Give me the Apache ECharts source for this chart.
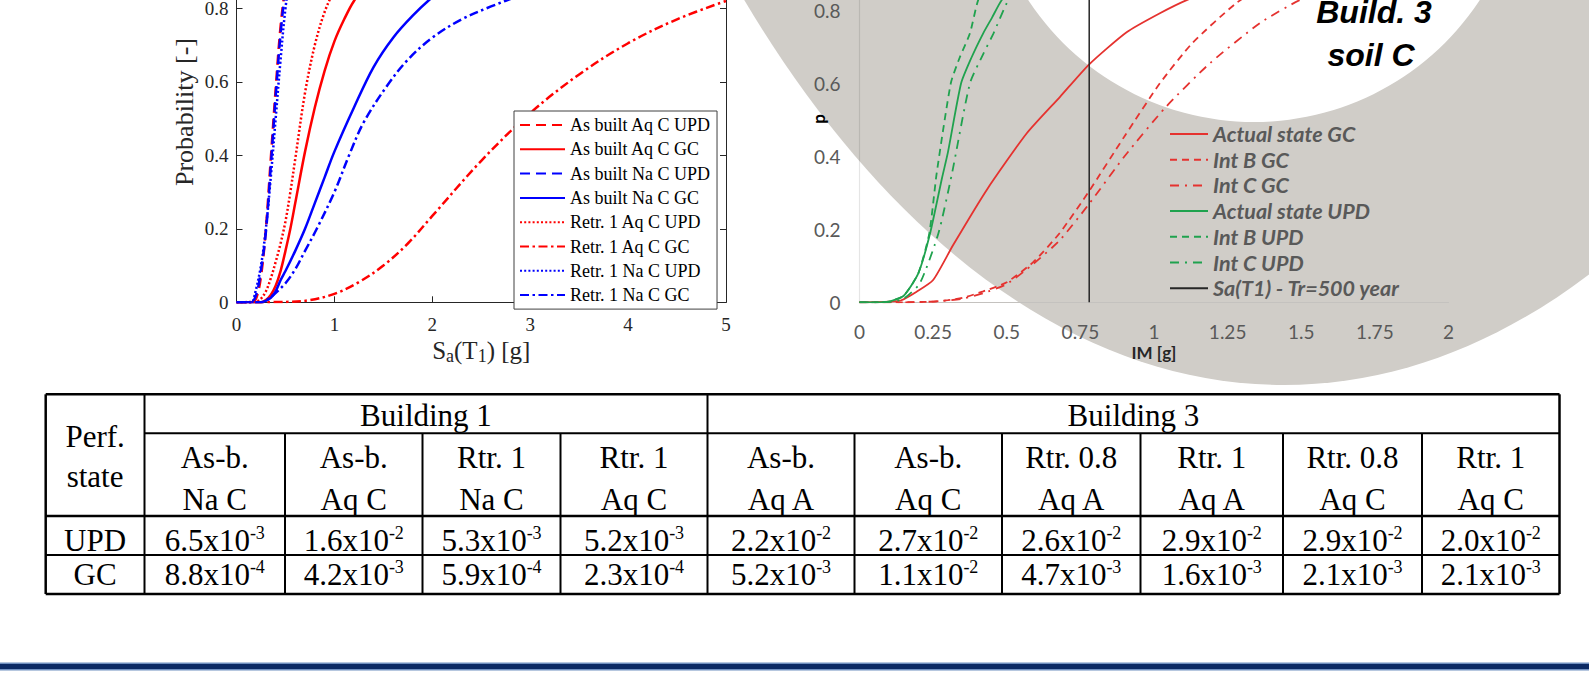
<!DOCTYPE html>
<html>
<head>
<meta charset="utf-8">
<script src="https://cdn.jsdelivr.net/npm/echarts@6/dist/echarts.min.js"></script>
<style>
  html, body { margin: 0; padding: 0; background: #ffffff; }
  #chart { width: 1589px; height: 681px; }
</style>
</head>
<body>
<div id="chart"></div>
<script>
// ---------- Building 1, soil C: fragility curves, Sa(T1) [g] vs probability ----------
const b1_names = [
  'As built Aq C UPD', 'As built Aq C GC', 'As built Na C UPD', 'As built Na C GC',
  'Retr. 1 Aq C UPD', 'Retr. 1 Aq C GC', 'Retr. 1 Na C UPD', 'Retr. 1 Na C GC'
];
const b1_asbuilt_aq_upd = [[0,0],[0.15,0],[0.2,0.01],[0.25,0.07],[0.3,0.2],[0.35,0.39],[0.4,0.58],[0.45,0.75],[0.5,0.86],[0.55,0.93],[0.6,0.97]];
const b1_asbuilt_aq_gc = [[0,0],[0.25,0],[0.3,0.006],[0.35,0.02],[0.4,0.045],[0.45,0.085],[0.5,0.14],[0.55,0.2],[0.6,0.27],[0.7,0.41],[0.8,0.53],[0.9,0.63],[1.0,0.71],[1.1,0.77],[1.2,0.82],[1.4,0.89],[1.6,0.93]];
const b1_asbuilt_na_upd = [[0,0],[0.15,0],[0.2,0.02],[0.24,0.07],[0.3,0.19],[0.35,0.37],[0.4,0.56],[0.45,0.73],[0.5,0.85],[0.55,0.92],[0.6,0.96]];
const b1_asbuilt_na_gc = [[0,0],[0.25,0],[0.3,0.004],[0.35,0.012],[0.4,0.03],[0.45,0.06],[0.5,0.085],[0.6,0.14],[0.7,0.2],[0.8,0.27],[0.9,0.34],[1.0,0.41],[1.2,0.53],[1.4,0.64],[1.6,0.72],[1.8,0.78],[2.0,0.83],[2.2,0.87]];
const b1_retr_aq_upd = [[0,0],[0.2,0.002],[0.25,0.01],[0.3,0.03],[0.35,0.065],[0.4,0.11],[0.45,0.16],[0.5,0.22],[0.55,0.3],[0.6,0.39],[0.7,0.57],[0.8,0.7],[0.9,0.79],[1.0,0.85],[1.1,0.9],[1.2,0.93]];
const b1_retr_aq_gc = [[0,0],[0.5,0.001],[0.75,0.006],[1.0,0.023],[1.25,0.055],[1.5,0.1],[1.75,0.16],[2.0,0.235],[2.5,0.385],[3.0,0.515],[3.5,0.62],[4.0,0.705],[4.5,0.77],[5.0,0.82]];
const b1_retr_na_upd = [[0,0],[0.15,0],[0.19,0.025],[0.25,0.1],[0.3,0.2],[0.35,0.34],[0.4,0.5],[0.45,0.66],[0.5,0.8],[0.55,0.89],[0.6,0.94]];
const b1_retr_na_gc = [[0,0],[0.25,0],[0.3,0.005],[0.376,0.02],[0.45,0.038],[0.51,0.055],[0.6,0.09],[0.7,0.14],[0.82,0.2],[1.0,0.3],[1.15,0.4],[1.3,0.49],[1.54,0.59],[1.75,0.66],[2.0,0.72],[2.3,0.77],[2.6,0.805],[2.9,0.835],[3.2,0.86]];

// ---------- Building 3, soil C: fragility curves, IM [g] vs p ----------
const b3_names = ['Actual state GC', 'Int B GC', 'Int C GC', 'Actual state UPD', 'Int B UPD', 'Int C UPD', 'Sa(T1) - Tr=500 year'];
const b3_actual_gc = [[0,0],[0.1,0.002],[0.14,0.005],[0.194,0.029],[0.25,0.061],[0.318,0.157],[0.432,0.308],[0.568,0.463],[0.681,0.563],[0.78,0.652],[0.907,0.74],[1.02,0.792],[1.111,0.828],[1.25,0.87],[1.5,0.92]];
const b3_intb_gc = [[0,0],[0.15,0],[0.25,0.002],[0.3,0.006],[0.35,0.012],[0.42,0.03],[0.5,0.055],[0.59,0.11],[0.68,0.19],[0.78,0.305],[0.9,0.455],[1.02,0.6],[1.13,0.71],[1.28,0.82],[1.4,0.88],[1.6,0.94]];
const b3_intc_gc = [[0,0],[0.15,0],[0.25,0.002],[0.3,0.005],[0.35,0.01],[0.42,0.025],[0.5,0.05],[0.59,0.105],[0.68,0.17],[0.78,0.27],[0.9,0.4],[1.04,0.535],[1.19,0.655],[1.36,0.765],[1.5,0.83],[1.7,0.89]];
const b3_actual_upd = [[0,0],[0.05,0],[0.1,0.002],[0.15,0.018],[0.2,0.08],[0.24,0.19],[0.28,0.34],[0.3,0.41],[0.345,0.6],[0.38,0.67],[0.42,0.737],[0.45,0.78],[0.483,0.828],[0.55,0.89],[0.65,0.95]];
const b3_intb_upd = [[0,0],[0.05,0],[0.1,0.002],[0.15,0.018],[0.2,0.08],[0.237,0.189],[0.262,0.353],[0.31,0.6],[0.34,0.67],[0.375,0.737],[0.403,0.828],[0.45,0.9],[0.55,0.96]];
const b3_intc_upd = [[0,0],[0.05,0],[0.1,0.001],[0.15,0.01],[0.205,0.052],[0.268,0.189],[0.314,0.353],[0.375,0.6],[0.42,0.68],[0.455,0.737],[0.505,0.828],[0.55,0.88],[0.65,0.94]];
const b3_sa_tr500 = 0.78;

// ---------- annual failure probabilities ----------
const table_groups = ['Building 1', 'Building 3'];
const table_group_span = [4, 6];
const table_head_top = ['As-b.', 'As-b.', 'Rtr. 1', 'Rtr. 1', 'As-b.', 'As-b.', 'Rtr. 0.8', 'Rtr. 1', 'Rtr. 0.8', 'Rtr. 1'];
const table_head_bottom = ['Na C', 'Aq C', 'Na C', 'Aq C', 'Aq A', 'Aq C', 'Aq A', 'Aq A', 'Aq C', 'Aq C'];
const table_states = ['UPD', 'GC'];
const upd_mantissa = ['6.5', '1.6', '5.3', '5.2', '2.2', '2.7', '2.6', '2.9', '2.9', '2.0'];
const upd_exponent = [-3, -2, -3, -3, -2, -2, -2, -2, -2, -2];
const gc_mantissa = ['8.8', '4.2', '5.9', '2.3', '5.2', '1.1', '4.7', '1.6', '2.1', '2.1'];
const gc_exponent = [-4, -3, -4, -4, -3, -2, -3, -3, -3, -3];

// ---------- styling ----------
const SERIF = '"Liberation Serif", "Times New Roman", serif';
const SANS = '"Liberation Sans", Arial, sans-serif';
const CAL = 'Lato, "Open Sans", sans-serif';
const RED = '#ff0000', BLUE = '#0000ff';
const XL_RED = '#e5322f', XL_GREEN = '#1fa24e';

function matlabLine(name, data, color, type) {
  return {
    name, type: 'line', xAxisIndex: 0, yAxisIndex: 0, data,
    symbol: 'none', smooth: 0.35,
    lineStyle: { color, width: 2.5, type, cap: 'butt' },
    itemStyle: { color }
  };
}
function excelLine(name, data, color, type) {
  return {
    name, type: 'line', xAxisIndex: 1, yAxisIndex: 2, data,
    symbol: 'none', smooth: 0.2,
    lineStyle: { color, width: 1.8, type },
    itemStyle: { color }
  };
}

const DASH = [10, 6], DOT = [2, 2.2], DASHDOT = [9, 3.5, 2.5, 3.5];
const XL_DASH = [7, 5], XL_DASHDOT = [9, 6, 2, 6];

// ---------- table drawing ----------
const colX = [45.7, 144.5, 285, 422.5, 560.5, 707.5, 854.5, 1002, 1140.5, 1283, 1422, 1559.5];
const rowY = [394.3, 433.3, 516, 555, 594];
const tableFont = 31;

function hLine(x1, x2, y, w) {
  return { type: 'line', z: 5, shape: { x1, y1: y, x2, y2: y }, style: { stroke: '#000', lineWidth: w } };
}
function vLine(x, y1, y2, w) {
  return { type: 'line', z: 5, shape: { x1: x, y1, x2: x, y2 }, style: { stroke: '#000', lineWidth: w } };
}
function cellText(text, x, y) {
  return {
    type: 'text', z: 6,
    style: {
      text, x, y, align: 'center', verticalAlign: 'middle',
      fontFamily: SERIF, fontSize: tableFont, fill: '#000'
    }
  };
}
function sciText(m, e, x, y) {
  return {
    type: 'text', z: 6,
    style: {
      text: '{m|' + m + 'x10}{e|' + e + '}', x, y, align: 'center', verticalAlign: 'middle',
      fill: '#000',
      rich: {
        m: { fontFamily: SERIF, fontSize: tableFont, lineHeight: 32, fill: '#000' },
        e: { fontFamily: SERIF, fontSize: 18, lineHeight: 20, verticalAlign: 'top', fill: '#000' }
      }
    }
  };
}

const ROW_UPD = 540, ROW_GC = 574;
const tableEls = [];
const left = colX[0], right = colX[colX.length - 1];
tableEls.push(hLine(left, right, rowY[0], 2.5));
tableEls.push(hLine(colX[1], right, rowY[1], 2));
tableEls.push(hLine(left, right, rowY[2], 2.5));
tableEls.push(hLine(left, right, rowY[3], 2));
tableEls.push(hLine(left, right, rowY[4], 2.5));
tableEls.push(vLine(left, rowY[0], rowY[4], 2.5));
tableEls.push(vLine(colX[1], rowY[0], rowY[4], 2));
tableEls.push(vLine(right, rowY[0], rowY[4], 2.5));
let gStart = 1;
table_groups.forEach((g, gi) => {
  const gEnd = gStart + table_group_span[gi];
  if (gi > 0) tableEls.push(vLine(colX[gStart], rowY[0], rowY[4], 2));
  tableEls.push(cellText(g, (colX[gStart] + colX[gEnd]) / 2, 415));
  gStart = gEnd;
});
for (let c = 0; c < table_head_top.length; c++) {
  const xl = colX[c + 1], xr = colX[c + 2];
  const xc = (xl + xr) / 2;
  if (c > 0 && c !== table_group_span[0]) tableEls.push(vLine(xl, rowY[1], rowY[4], 2));
  tableEls.push(cellText(table_head_top[c], xc, 457));
  tableEls.push(cellText(table_head_bottom[c], xc, 499.5));
  tableEls.push(sciText(upd_mantissa[c], upd_exponent[c], xc, ROW_UPD));
  tableEls.push(sciText(gc_mantissa[c], gc_exponent[c], xc, ROW_GC));
}
const c0 = (colX[0] + colX[1]) / 2;
tableEls.push(cellText('Perf.', c0, 436.5));
tableEls.push(cellText('state', c0, 476));
tableEls.push(cellText(table_states[0], c0, ROW_UPD));
tableEls.push(cellText(table_states[1], c0, ROW_GC));

// ---------- background band, axis titles, panel title, footer rule ----------
const decoEls = [
  { type: 'ellipse', z: -20, silent: true, shape: { cx: 1284, cy: -1085, rx: 800, ry: 1470 }, style: { fill: '#d0cdc8' } },
  { type: 'circle', z: -19, silent: true, shape: { cx: 1254, cy: -148, r: 270 }, style: { fill: '#ffffff' } },
  { type: 'text', z: 6, x: 184.5, y: 112, rotation: Math.PI / 2,
    style: { text: 'Probability [-]', x: 0, y: 0, align: 'center', verticalAlign: 'middle', fontFamily: SERIF, fontSize: 26, fill: '#262626' } },
  { type: 'text', z: 6, x: 818, y: 119, rotation: Math.PI / 2,
    style: { text: 'p', x: 0, y: 0, align: 'center', verticalAlign: 'middle', fontFamily: CAL, fontSize: 17, fontWeight: 'bold', fill: '#000' } },
  { type: 'text', z: 6, style: { text: 'Build. 3', x: 1374, y: 12, align: 'center', verticalAlign: 'middle', fontFamily: SANS, fontSize: 32, fontWeight: 'bold', fontStyle: 'italic', fill: '#000' } },
  { type: 'text', z: 6, style: { text: 'soil C', x: 1371, y: 55, align: 'center', verticalAlign: 'middle', fontFamily: SANS, fontSize: 32, fontWeight: 'bold', fontStyle: 'italic', fill: '#000' } },
  { type: 'rect', z: 6, shape: { x: 0, y: 662.5, width: 1589, height: 8 }, style: { fill: '#6f8fbf' } },
  { type: 'rect', z: 7, shape: { x: 0, y: 664, width: 1589, height: 5 }, style: { fill: '#0b2a64' } }
];

const chart = echarts.init(document.getElementById('chart'), null, { renderer: 'svg' });

const option = {
  backgroundColor: '#ffffff',
  animation: false,
  grid: [
    { left: 236.5, top: -65.2, width: 489.5, height: 367.5, containLabel: false, outerBoundsMode: 'none' },
    { left: 859.5, top: -62.7, width: 589, height: 365, containLabel: false, outerBoundsMode: 'none' }
  ],
  xAxis: [
    {
      gridIndex: 0, type: 'value', min: 0, max: 5, interval: 1,
      axisLine: { lineStyle: { color: '#262626', width: 1 } },
      axisTick: { inside: true, length: 6, lineStyle: { color: '#262626' } },
      splitLine: { show: false },
      axisLabel: { fontFamily: SERIF, fontSize: 19, color: '#262626', margin: 13 },
      name: '{n|S}{s|a}{n|(T}{s|1}{n|) [g]}', nameLocation: 'middle', nameGap: 33, nameMoveOverlap: false,
      nameTextStyle: {
        rich: {
          n: { fontFamily: SERIF, fontSize: 25, lineHeight: 30, color: '#262626' },
          s: { fontFamily: SERIF, fontSize: 18, lineHeight: 4, verticalAlign: 'bottom', color: '#262626' }
        }
      }
    },
    {
      gridIndex: 1, type: 'value', min: 0, max: 2, interval: 0.25,
      axisLine: { lineStyle: { color: '#c4c2bf', width: 1.2 } },
      axisTick: { show: false },
      splitLine: { show: false },
      axisLabel: { fontFamily: CAL, fontSize: 19, lineHeight: 18, color: '#595959', margin: 20 },
      name: 'IM [g]', nameLocation: 'middle', nameGap: 42, nameMoveOverlap: false,
      nameTextStyle: { fontFamily: CAL, fontSize: 17, lineHeight: 16, fontWeight: 'bold', color: '#262626' }
    }
  ],
  yAxis: [
    {
      gridIndex: 0, type: 'value', min: 0, max: 1, interval: 0.2,
      axisLine: { show: true, lineStyle: { color: '#262626', width: 1 } },
      axisTick: { show: true, inside: true, length: 6, lineStyle: { color: '#262626' } },
      splitLine: { show: false },
      axisLabel: { fontFamily: SERIF, fontSize: 19, color: '#262626', margin: 8 }
    },
    {
      gridIndex: 0, type: 'value', min: 0, max: 1, interval: 0.2, position: 'right',
      axisLine: { show: true, lineStyle: { color: '#262626', width: 1 } },
      axisTick: { show: true, inside: true, length: 6, lineStyle: { color: '#262626' } },
      axisLabel: { show: false }, splitLine: { show: false }
    },
    {
      gridIndex: 1, type: 'value', min: 0, max: 1, interval: 0.2,
      axisLine: { show: true, lineStyle: { color: 'rgba(0,0,0,0.1)', width: 1.2 } },
      axisTick: { show: false },
      splitLine: { show: false },
      axisLabel: { fontFamily: CAL, fontSize: 19, color: '#595959', margin: 19 }
    }
  ],
  legend: [
    {
      data: b1_names, orient: 'vertical', left: 514, top: 111,
      padding: [5, 6, 5, 5], itemWidth: 45, itemHeight: 12, itemGap: 6.3,
      backgroundColor: '#ffffff', borderColor: '#404040', borderWidth: 1, borderRadius: 0,
      itemStyle: { opacity: 0 },
      textStyle: { fontFamily: SERIF, fontSize: 18, color: '#000', lineHeight: 16 }
    },
    {
      data: b3_names, orient: 'vertical', left: 1169, top: 123,
      padding: 0, itemWidth: 38, itemHeight: 10, itemGap: 3.7,
      itemStyle: { opacity: 0 },
      textStyle: { fontFamily: CAL, fontSize: 21.5, fontStyle: 'italic', fontWeight: 'bold', color: '#595959', lineHeight: 20 }
    }
  ],
  graphic: { elements: decoEls.concat(tableEls) },
  series: [
    matlabLine(b1_names[0], b1_asbuilt_aq_upd, RED, DASH),
    matlabLine(b1_names[1], b1_asbuilt_aq_gc, RED, 'solid'),
    matlabLine(b1_names[2], b1_asbuilt_na_upd, BLUE, DASH),
    matlabLine(b1_names[3], b1_asbuilt_na_gc, BLUE, 'solid'),
    matlabLine(b1_names[4], b1_retr_aq_upd, RED, DOT),
    matlabLine(b1_names[5], b1_retr_aq_gc, RED, DASHDOT),
    matlabLine(b1_names[6], b1_retr_na_upd, BLUE, DOT),
    matlabLine(b1_names[7], b1_retr_na_gc, BLUE, DASHDOT),
    excelLine(b3_names[0], b3_actual_gc, XL_RED, 'solid'),
    excelLine(b3_names[1], b3_intb_gc, XL_RED, XL_DASH),
    excelLine(b3_names[2], b3_intc_gc, XL_RED, XL_DASHDOT),
    excelLine(b3_names[3], b3_actual_upd, XL_GREEN, 'solid'),
    excelLine(b3_names[4], b3_intb_upd, XL_GREEN, XL_DASH),
    excelLine(b3_names[5], b3_intc_upd, XL_GREEN, XL_DASHDOT),
    {
      name: b3_names[6], type: 'line', xAxisIndex: 1, yAxisIndex: 2,
      data: [[b3_sa_tr500, 0], [b3_sa_tr500, 1]], symbol: 'none',
      lineStyle: { color: '#262626', width: 1.5 }, itemStyle: { color: '#262626' }
    }
  ]
};

chart.setOption(option);
</script>
</body>
</html>
